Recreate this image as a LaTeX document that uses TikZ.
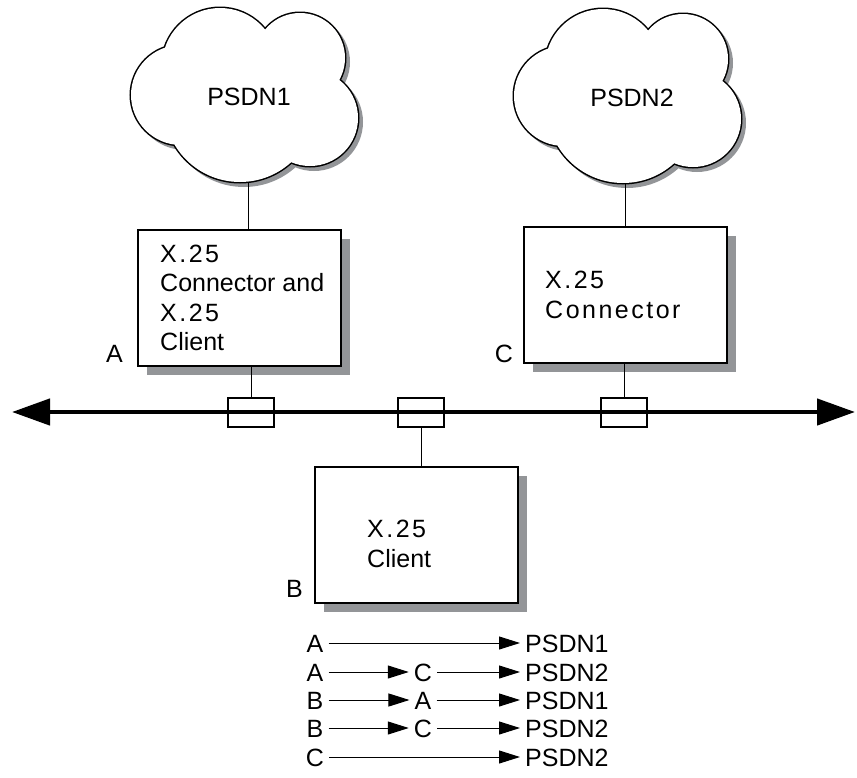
\documentclass[tikz,border=0pt]{standalone}
\usepackage{fontspec}
\setmainfont{Liberation Sans}
\newfontfamily\spacedfont[LetterSpace=10]{Liberation Sans}
\usetikzlibrary{arrows.meta,shadows}
\definecolor{shadowgray}{HTML}{939598}

\begin{document}
\begin{tikzpicture}[x=1pt, y=-1pt,
  box/.style={draw, line width=2pt, fill=white, minimum width=203pt, minimum height=136pt,
    drop shadow={shadow xshift=9pt, shadow yshift=-9pt, fill=shadowgray, opacity=1}},
  txt/.style={anchor=west, align=left, inner sep=0pt, font=\fontsize{25}{29.5}\selectfont},
  tag/.style={inner sep=0pt, font=\fontsize{25}{30}\selectfont},
  tap/.style={draw, line width=2pt, minimum width=46pt, minimum height=29pt, inner sep=0pt},
  wire/.style={line width=1pt},
  bus/.style={line width=4.5pt, {Triangle[length=38pt,width=26pt]}-{Triangle[length=38pt,width=26pt]}},
  hop/.style={inner xsep=5pt, inner ysep=0pt, text height=18pt, text depth=0pt, font=\fontsize{25}{30}\selectfont},
  route/.style={line width=1pt, -{Triangle[length=21pt,width=13pt]}},
  pics/cloud/.style={code={
    \fill[shadowgray, shift={(4,4)}] (-68,-2) circle[radius=51pt] (-29,-31) circle[radius=59pt]
      (51,-39) circle[radius=46pt] (61,21) circle[radius=49pt] (-9,9) circle[radius=77pt];
    \draw[line width=3pt] (-68,-2) circle[radius=50pt] (-29,-31) circle[radius=58pt]
      (51,-39) circle[radius=45pt] (61,21) circle[radius=48pt] (-9,9) circle[radius=76pt];
    \fill[white] (-68,-2) circle[radius=50pt] (-29,-31) circle[radius=58pt]
      (51,-39) circle[radius=45pt] (61,21) circle[radius=48pt] (-9,9) circle[radius=76pt];
  }}
]
\useasboundingbox (0,0) rectangle (857,777);

% networks
\pic at (249,97) {cloud};
\node[tag] (psdn1) at (249,97) {PSDN1};
\pic at (632,98) {cloud};
\node[tag] (psdn2) at (632,98) {PSDN2};
\coordinate (cl1) at (248,182);
\coordinate (cl2) at (625,183);

% hosts
\node[box] (boxA) at (239,297.5) {};
\node[box] (boxC) at (625.5,295) {};
\node[box] (boxB) at (416.5,534.5) {};
\node[txt] (txtA) at (160,298) {{\spacedfont X.25}\\Connector and\\{\spacedfont X.25}\\Client};
\node[txt] (txtC) at (545,295) {{\spacedfont X.25}\\{\spacedfont Connector}};
\node[txt] (txtB) at (367,544) {{\spacedfont X.25}\\Client};
\node[tag, anchor=base east] (labA) at (123,362) {A};
\node[tag, anchor=base east] (labC) at (513,362) {C};
\node[tag, anchor=base east] (labB) at (303,597) {B};

% LAN
\coordinate (busL) at (12,412);
\coordinate (busR) at (855,412);
\draw[bus] (busL) -- (busR);
\node[tap] (tapA) at (251,412) {};
\node[tap] (tapB) at (421,412) {};
\node[tap] (tapC) at (624,412) {};

\draw[wire] (cl1) -- (cl1 |- boxA.north);
\draw[wire] (cl2) -- (cl2 |- boxC.north);
\draw[wire] (tapA.north) -- (tapA.north |- boxA.south);
\draw[wire] (tapC.north) -- (tapC.north |- boxC.south);
\draw[wire] (tapB.south) -- (tapB.south |- boxB.north);

% routes
\node[hop] (s1) at (315,643) {A};
\node[hop, anchor=west] (d1) at (520,643) {PSDN1};
\draw[route] (s1) -- (d1);

\node[hop] (s2) at (315,672) {A};
\node[hop] (m2) at (423,672) {C};
\node[hop, anchor=west] (d2) at (520,672) {PSDN2};
\draw[route] (s2) -- (m2);
\draw[route] (m2) -- (d2);

\node[hop] (s3) at (315,700) {B};
\node[hop] (m3) at (423,700) {A};
\node[hop, anchor=west] (d3) at (520,700) {PSDN1};
\draw[route] (s3) -- (m3);
\draw[route] (m3) -- (d3);

\node[hop] (s4) at (315,728) {B};
\node[hop] (m4) at (423,728) {C};
\node[hop, anchor=west] (d4) at (520,728) {PSDN2};
\draw[route] (s4) -- (m4);
\draw[route] (m4) -- (d4);

\node[hop] (s5) at (315,757) {C};
\node[hop, anchor=west] (d5) at (520,757) {PSDN2};
\draw[route] (s5) -- (d5);
\end{tikzpicture}
\end{document}
